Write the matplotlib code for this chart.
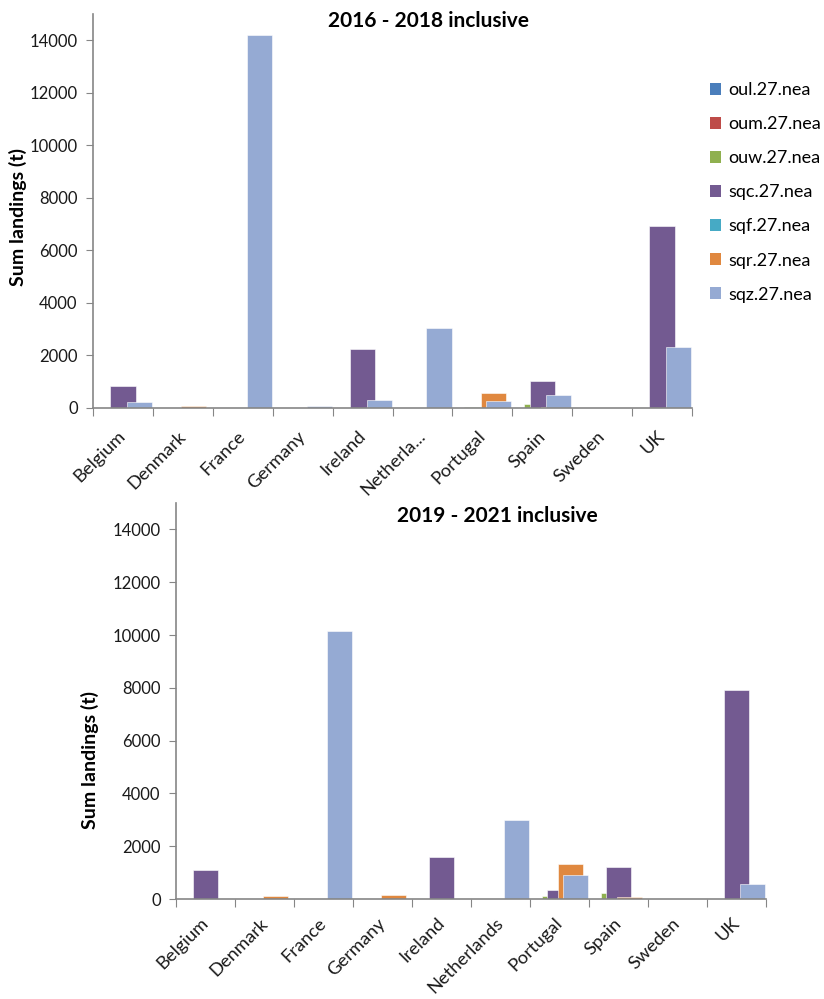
import numpy as np
import matplotlib
matplotlib.use("Agg")
import matplotlib.pyplot as plt
from matplotlib.patches import Patch
from matplotlib.transforms import offset_copy

plt.rcParams['font.family'] = ['Lato', 'DejaVu Sans']

countries = ["Belgium", "Denmark", "France", "Germany", "Ireland",
             "Netherlands", "Portugal", "Spain", "Sweden", "UK"]
labels_top = ["Belgium", "Denmark", "France", "Germany", "Ireland",
              "Netherla...", "Portugal", "Spain", "Sweden", "UK"]
stocks = ["oul.27.nea", "oum.27.nea", "ouw.27.nea", "sqc.27.nea",
          "sqf.27.nea", "sqr.27.nea", "sqz.27.nea"]
colors = ["#4A7EBB", "#BE4B48", "#8FB04F", "#735A91", "#46AAC5", "#E0883F", "#95AAD3"]

# 2016 - 2018 inclusive, one list per stock (order = countries)
oul_1 = [0, 0, 0, 0, 0, 0, 0, 0, 0, 0]
oum_1 = [0, 0, 0, 0, 0, 0, 0, 0, 0, 0]
ouw_1 = [0, 0, 0, 0, 0, 0, 30, 140, 0, 0]
sqc_1 = [850, 0, 0, 0, 2250, 0, 0, 1015, 0, 6930]
sqf_1 = [0, 0, 0, 0, 0, 0, 0, 0, 0, 0]
sqr_1 = [0, 65, 0, 0, 0, 0, 570, 40, 0, 0]
sqz_1 = [220, 0, 14200, 60, 305, 3030, 280, 500, 0, 2310]

# 2019 - 2021 inclusive
oul_2 = [0, 0, 0, 0, 0, 0, 0, 0, 0, 0]
oum_2 = [0, 0, 0, 0, 0, 0, 0, 0, 0, 0]
ouw_2 = [0, 0, 0, 0, 0, 0, 110, 215, 0, 0]
sqc_2 = [1100, 0, 0, 0, 1575, 0, 340, 1225, 0, 7900]
sqf_2 = [0, 0, 0, 0, 0, 0, 0, 0, 0, 0]
sqr_2 = [0, 110, 0, 140, 0, 0, 1330, 75, 0, 0]
sqz_2 = [0, 0, 10150, 0, 0, 2975, 910, 0, 0, 570]

period1 = [oul_1, oum_1, ouw_1, sqc_1, sqf_1, sqr_1, sqz_1]
period2 = [oul_2, oum_2, ouw_2, sqc_2, sqf_2, sqr_2, sqz_2]

W, H = 824, 999
fig = plt.figure(figsize=(W / 100, H / 100), dpi=100)


def draw(rect, series, xlabels, lab_dy=-20):
    ax = fig.add_axes(rect)
    x = np.arange(len(countries))
    for i, vals in enumerate(series):
        bars = ax.bar(x + (i - 3) * 0.092, vals, width=0.42, color=colors[i],
                      edgecolor="white", linewidth=0.4, zorder=2 + i)
        for b, v in zip(bars, vals):
            if v == 0:
                b.set_visible(False)
    ax.set_xlim(-0.5, len(countries) - 0.5)
    ax.set_ylim(0, 15000)
    ax.set_yticks(np.arange(0, 14001, 2000))
    ax.tick_params(axis="y", labelsize=12, length=5, color="#868686",
                   labelcolor="#1a1a1a", pad=6)
    ax.set_xticks(np.arange(-0.5, len(countries)))
    ax.set_xticklabels([])
    ax.tick_params(axis="x", length=6, color="#868686")
    # category labels, rotated like Excel (bounding box top-right at the category)
    tr = offset_copy(ax.get_xaxis_transform(), fig=fig, x=6, y=lab_dy, units="dots")
    for xi, lab in zip(x, xlabels):
        ax.text(xi, 0, lab, transform=tr, rotation=45, ha="right", va="top",
                fontsize=13.2, color="#1a1a1a", clip_on=False)
    for s in ["top", "right"]:
        ax.spines[s].set_visible(False)
    for s in ["left", "bottom"]:
        ax.spines[s].set_color("#868686")
        ax.spines[s].set_linewidth(1.2)
        ax.spines[s].set_zorder(20)
    return ax


ax1 = draw([93 / W, 1 - 408 / H, 599 / W, (408 - 14) / H], period1, labels_top)
ax2 = draw([176 / W, 1 - 899 / H, 590 / W, (899 - 503) / H], period2, countries,
           lab_dy=-16)

fig.text(428 / W, 1 - 21 / H, "2016 - 2018 inclusive", ha="center", va="center",
         fontsize=15, fontweight="bold")
fig.text(497 / W, 1 - 516 / H, "2019 - 2021 inclusive", ha="center", va="center",
         fontsize=15, fontweight="bold")
fig.text(18 / W, 1 - 217 / H, "Sum landings (t)", rotation=90, ha="center",
         va="center", fontsize=14, fontweight="bold")
fig.text(90 / W, 1 - 760 / H, "Sum landings (t)", rotation=90, ha="center",
         va="center", fontsize=14, fontweight="bold")

handles = [Patch(facecolor=c, edgecolor="none") for c in colors]
fig.legend(handles, stocks, loc="upper left", bbox_to_anchor=(694 / W, 1 - 66 / H),
           frameon=False, fontsize=13, handlelength=0.6, handleheight=0.6,
           handletextpad=0.4, labelspacing=1.0)

fig.savefig("out.png", dpi=100)
